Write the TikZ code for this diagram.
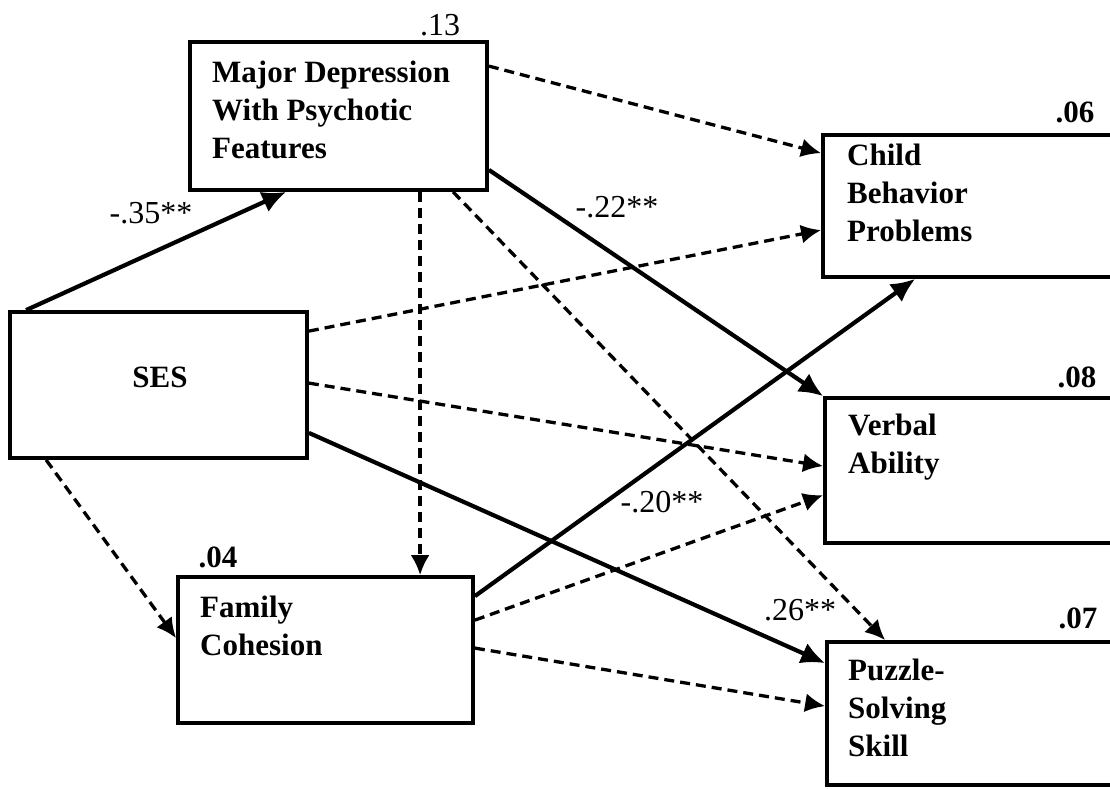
\documentclass[tikz,border=0pt]{standalone}
\usepackage{fontspec}
\setmainfont{Liberation Serif}
\usetikzlibrary{arrows.meta}
\begin{document}
\begin{tikzpicture}[x=1pt,y=-1pt,
  box/.style={draw, line width=3.8pt, inner sep=0pt},
  boxtext/.style={anchor=north west, inner sep=0pt, align=left, font=\fontsize{31}{38}\selectfont\bfseries},
  rsq/.style={inner sep=0pt, font=\fontsize{31}{36}\selectfont\bfseries},
  coef/.style={inner sep=0pt, font=\fontsize{32}{36}\selectfont},
  solidarrow/.style={line width=4.2pt, -{Latex[length=24pt,width=22pt]}},
  dasharrow/.style={line width=3.3pt, dash pattern=on 10pt off 6pt, -{Latex[length=20pt,width=19pt]}},
]
\clip (0,0) rectangle (1110,788);
\fill[white] (0,0) rectangle (1110,788);

% boxes
\node[box, minimum width=297pt, minimum height=148pt] (md) at (338.5,116) {};
\node[box, minimum width=297pt, minimum height=146pt] (ses) at (158.5,385) {};
\node[box, minimum width=295pt, minimum height=146pt] (fc) at (325.5,650) {};
\node[box, minimum width=307pt, minimum height=142pt] (cbp) at (976.5,206) {};
\node[box, minimum width=305pt, minimum height=145pt] (va) at (977.5,470.5) {};
\node[box, minimum width=303pt, minimum height=143pt] (ps) at (978.5,713.5) {};

% box texts
\node[boxtext] (mdt) at (212,61) {Major Depression\\With Psychotic\\Features};
\node[rsq] (sest) at (160,377) {SES};
\node[boxtext] (fct) at (200,596) {Family\\Cohesion};
\node[boxtext] (cbpt) at (847,144) {Child\\Behavior\\Problems};
\node[boxtext] (vat) at (848,414) {Verbal\\Ability};
\node[boxtext] (pst) at (848,659) {Puzzle-\\Solving\\Skill};

% R-squared values
\node[coef] (r13) at (440,25) {.13};
\node[rsq] (r06) at (1075,112) {.06};
\node[rsq] (r08) at (1077,377) {.08};
\node[rsq] (r07) at (1078,618) {.07};
\node[rsq] (r04) at (218,557) {.04};

% connectors
\draw[solidarrow] ([xshift=18pt]ses.north west) -- ([xshift=98pt]md.south west);
\draw[dasharrow] ([yshift=-26pt]md.north east) -- ([yshift=-20pt]cbp.north west);
\draw[solidarrow] ([yshift=22pt]md.south east) -- (va.north west);
\draw[dasharrow] ([xshift=232pt]md.south west) -- ([xshift=244pt]fc.north west);
\draw[dasharrow] ([xshift=265pt]md.south west) -- ([xshift=60pt]ps.north west);
\draw[dasharrow] ([yshift=-21pt]ses.north east) -- ([yshift=-97pt]cbp.north west);
\draw[dasharrow] ([yshift=-73pt]ses.north east) -- ([yshift=-70pt]va.north west);
\draw[solidarrow] ([yshift=27pt]ses.south east) -- ([yshift=-23pt]ps.north west);
\draw[dasharrow] ([xshift=38pt]ses.south west) -- ([yshift=-63pt]fc.north west);
\draw[solidarrow] ([yshift=-21pt]fc.north east) -- ([xshift=94pt]cbp.south west);
\draw[dasharrow] ([yshift=-45pt]fc.north east) -- ([yshift=-99pt]va.north west);
\draw[dasharrow] ([yshift=-73pt]fc.north east) -- ([yshift=-66pt]ps.north west);

% path coefficients
\node[coef] (c35) at (151,213) {-.35**};
\node[coef] (c22) at (617,207) {-.22**};
\node[coef] (c20) at (662,502) {-.20**};
\node[coef] (c26) at (800,610) {.26**};
\end{tikzpicture}
\end{document}
